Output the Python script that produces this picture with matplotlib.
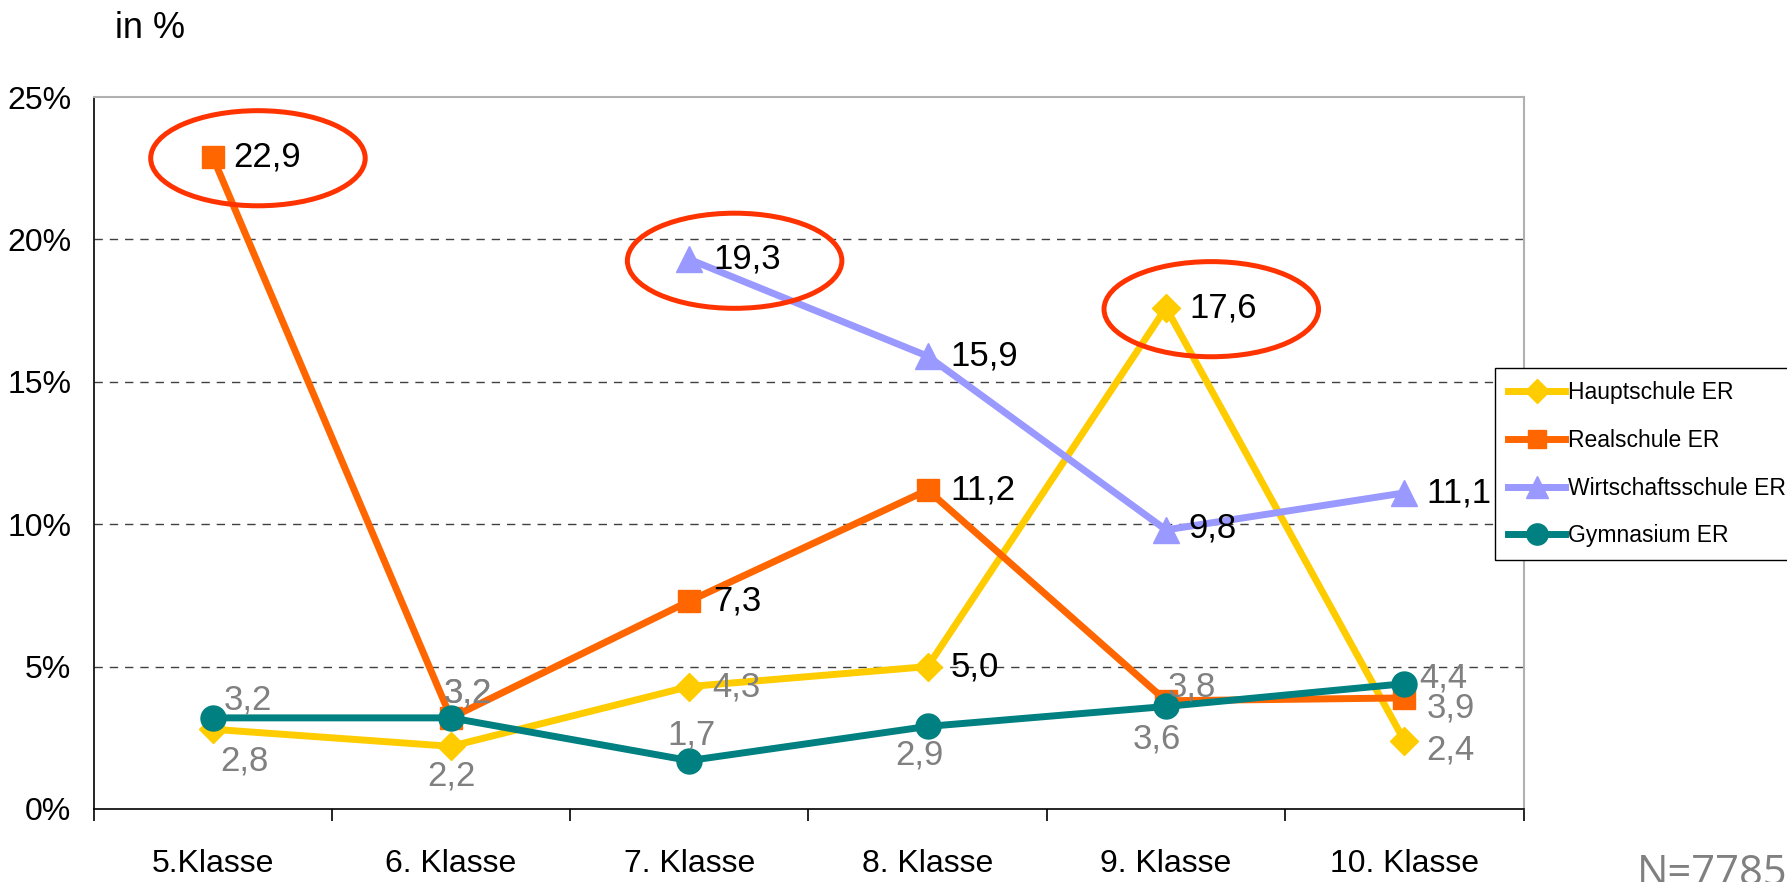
import numpy as np
import matplotlib.pyplot as plt
from matplotlib.patches import Ellipse

plt.rcParams["font.family"] = ["Liberation Sans", "DejaVu Sans"]

klassen = ["5.Klasse", "6. Klasse", "7. Klasse", "8. Klasse", "9. Klasse", "10. Klasse"]
hauptschule = [2.8, 2.2, 4.3, 5.0, 17.6, 2.4]
realschule = [22.9, 3.2, 7.3, 11.2, 3.8, 3.9]
wirtschaftsschule = [np.nan, np.nan, 19.3, 15.9, 9.8, 11.1]
gymnasium = [3.2, 3.2, 1.7, 2.9, 3.6, 4.4]
series_names = ["Hauptschule ER", "Realschule ER", "Wirtschaftsschule ER", "Gymnasium ER"]
y_ticks = [0, 5, 10, 15, 20, 25]
n_total = 7785

colors = ["#FFCC00", "#FF6600", "#9999FF", "#008080"]
markers = [("D", 14), ("s", 16), ("^", 19), ("o", 18)]

# label offsets in pixels (dx, dy, ha), one row per series
px = 1 / 1.389
offsets = [
    [(8, -32, "left"), (0, -30, "center"), (23, 0, "left"), (23, 0, "left"), (23, 0, "left"), (22, -9, "left")],
    [(21, 0, "left"), (-7, 25, "left"), (24, 0, "left"), (23, 0, "left"), (2, 14, "left"), (22, -10, "left")],
    [None, None, (24, 0, "left"), (23, 0, "left"), (22, 2, "left"), (22, 0, "left")],
    [(11, 18, "left"), (-7, 25, "left"), (2, 26, "center"), (-8, -29, "center"), (-9, -33, "center"), (15, 6, "left")],
]

fig = plt.figure(figsize=(17.87, 8.82), dpi=100)
ax = fig.add_axes([93.5 / 1787, 73 / 882, 1430 / 1787, 712 / 882])

x = np.arange(len(klassen))
all_series = [hauptschule, realschule, wirtschaftsschule, gymnasium]
for vals, name, c, (m, ms), offs in zip(all_series, series_names, colors, markers, offsets):
    ax.plot(x, vals, color=c, lw=5, marker=m, markersize=ms, label=name, zorder=3)
    for i, v in enumerate(vals):
        if np.isnan(v) or offs[i] is None:
            continue
        dx, dy, ha = offs[i]
        ax.annotate(f"{v:.1f}".replace(".", ","), (i, v), xytext=(dx * px, dy * px),
                    textcoords="offset points", ha=ha, va="center", fontsize=25,
                    color="#808080" if v < 5 else "black", zorder=4)

# red rings around the peak values
for vals, i in [(realschule, 0), (wirtschaftsschule, 2), (hauptschule, 4)]:
    ax.add_patch(Ellipse((i + 0.19, vals[i] - 0.05), 0.9, 3.34, fill=False,
                         edgecolor="#FF3300", lw=3.6, zorder=5, clip_on=False))

ax.set_xlim(-0.5, len(klassen) - 0.5)
ax.set_ylim(0, 25)
ax.set_yticks(y_ticks)
ax.set_yticklabels([f"{t}%" for t in y_ticks], fontsize=23)
ax.tick_params(axis="y", length=0, pad=16)
ax.set_xticks(x)
ax.set_xticklabels(klassen, fontsize=23)
ax.set_xticks(np.arange(-0.5, len(klassen)), minor=True)
ax.tick_params(axis="x", which="major", length=0, pad=29)
ax.tick_params(axis="x", which="minor", length=8.6, width=1.2, direction="out")

for t in y_ticks[1:-1]:
    ax.axhline(t, color="#404040", lw=1, dashes=(6, 5), zorder=1)

for s in ["top", "right"]:
    ax.spines[s].set_color("#B0B0B0")
    ax.spines[s].set_linewidth(1.5)
for s in ["left", "bottom"]:
    ax.spines[s].set_color("black")
    ax.spines[s].set_linewidth(1.2)

fig.legend(loc="upper left", bbox_to_anchor=(1495 / 1787, 1 - 368 / 882), fontsize=16.5,
           frameon=True, fancybox=False, edgecolor="black", framealpha=1,
           handlelength=2.5, handletextpad=0.1, borderpad=0.57, labelspacing=1.08,
           borderaxespad=0, markerscale=0.85)

fig.text(115 / 1787, 1 - 38 / 882, "in %", fontsize=26, va="baseline")
fig.text(1637 / 1787, 1 - 885 / 882, f"N={n_total}", fontsize=30, color="#808080",
         family="Open Sans", va="baseline")

fig.savefig("out.png", dpi=100)
